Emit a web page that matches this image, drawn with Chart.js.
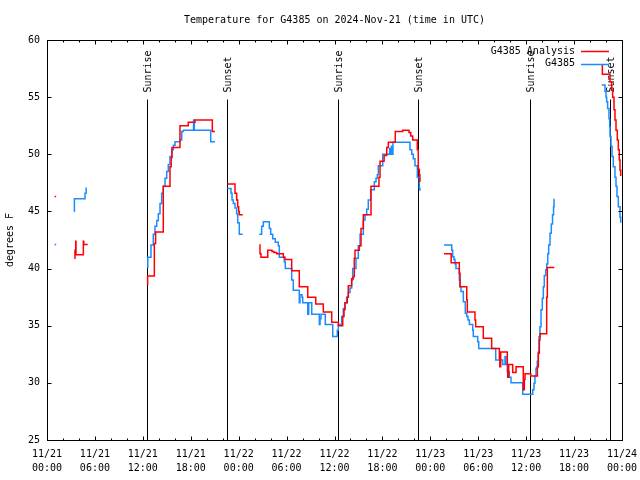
<!DOCTYPE html>
<html>
<head>
<meta charset="utf-8">
<script src="https://cdn.jsdelivr.net/npm/chart.js@4.4.1/dist/chart.umd.min.js"></script>
<style>
  html, body { margin: 0; padding: 0; background: #fff; }
  canvas { display: block; }
</style>
</head>
<body>
<canvas id="c" width="640" height="480"></canvas>
<script>
// ---- data (hours since 2024-11-21 00:00 UTC, degrees F); null = gap ----
const chartTitle = 'Temperature for G4385 on 2024-Nov-21 (time in UTC)';
const seriesNames = ['G4385 Analysis', 'G4385'];

const analysisHours = [
  0.95, 1.15, 2,
  3.42, 3.5, 3.6, 3.63, 4.55, 4.6, 5.1, 8,
  12.5, 12.6, 13.44, 13.6, 14.56, 15.4, 15.55, 15.65, 16.65, 17.69, 18.53, 20.7, 21.04, 22,
  22.58, 23.54, 23.75, 23.88, 24.0, 24.08, 24.51, 25,
  26.58, 26.67, 26.79, 27.64, 28.17, 28.42, 28.76, 29.59, 29.8, 30.64, 31.59, 32.65, 33.65, 34.6, 35.65,
  36.48, 37.03, 37.19, 37.31, 37.6, 37.73, 38.15, 38.36, 38.48, 38.57, 39.11, 39.32, 39.61, 40.57, 41.57,
  41.7, 42.21, 42.54, 42.74, 43.61, 44.54, 45.33, 45.54, 45.79, 46.37, 46.49, 46.62, 46.7, 48,
  49.71, 50.61, 51.63, 51.72, 52.56, 52.63, 53.59, 53.68, 54.63, 55.68, 56.64, 56.7, 56.81, 57.64, 57.69,
  57.81, 58.31, 58.73, 59.64, 59.77, 59.86, 60.57, 61.4, 61.52, 61.65, 61.73, 62.57, 62.65, 63.52, 66,
  69.46, 69.54, 70.5, 70.71, 70.83, 71.0, 71.12, 71.25, 71.41, 71.54, 71.66, 71.75, 71.84
];
const analysisTemps = [
  46.3, 46.3, null,
  40.9, 41.6, 42.4, 41.2, 42.4, 42.1, 42.1, null,
  38.6, 39.35, 42.2, 43.2, 47.2, 48.9, 49.7, 50.6, 52.5, 52.8, 53.0, 52.0, 52.0, null,
  47.4, 46.6, 46.0, 45.4, 45.0, 44.7, 44.7, null,
  42.06, 41.3, 41.0, 41.6, 41.5, 41.4, 41.3, 41.0, 40.8, 39.8, 38.4, 37.5, 36.9, 36.2, 35.3,
  35.0, 35.8, 36.4, 37.0, 37.5, 38.5, 39.1, 39.3, 40.9, 41.6, 42.0, 43.5, 44.7, 47.2, 48.0,
  49.4, 49.9, 50.6, 51.05, 52.0, 52.1, 51.9, 51.6, 51.25, 50.4, 48.7, 48.2, 47.6, null,
  41.3, 40.5, 39.6, 38.4, 37.25, 36.2, 35.5, 34.9, 33.9, 33.0, 32.15, 31.4, 32.7, 31.6, 30.5,
  31.6, 30.9, 31.4, 29.4, 30.3, 30.8, 30.6, 31.4, 32.6, 33.75, 34.3, 37.5, 40.1, 40.1, null,
  57.8, 57.0, 56.35, 55.6, 55.0, 53.9, 53.0, 52.1, 51.25, 50.4, 49.5, 48.6, 48.1
];

const stationHours = [
  0.95, 1.15, 2,
  3.42, 3.43, 4.76, 4.9, 8,
  12.55, 12.62, 13.02, 13.31, 13.52, 13.74, 13.94, 14.15, 14.36, 14.56, 14.78, 14.99, 15.19, 15.4, 15.62,
  15.82, 16.03, 16.65, 16.87, 17.07, 18.35, 18.45, 20.5, 21.04, 22,
  22.58, 23.04, 23.17, 23.33, 23.54, 23.75, 23.88, 24.08, 24.51, 25,
  26.58, 26.88, 27.09, 27.84, 28.01, 28.26, 28.59, 28.96, 29.09, 29.71, 29.84, 30.64, 30.84, 31.59, 31.68,
  31.93, 32.02, 32.65, 32.77, 33.15, 34.1, 34.19, 34.31, 34.85, 35.78, 36.35, 36.48, 36.9, 37.1, 37.31,
  37.53, 37.73, 37.94, 38.15, 38.28, 38.69, 38.98, 39.2, 39.61, 39.82, 40.03, 40.23, 40.53, 40.99, 41.2,
  41.36, 41.49, 42.04, 42.9, 43.04, 43.12, 43.24, 43.32, 45.24, 45.45, 45.67, 45.87, 46.08, 46.37, 46.62, 46.7, 48,
  49.71, 50.68, 50.8, 50.96, 51.09, 51.21, 51.63, 51.72, 51.84, 52.13, 52.38, 52.56, 52.72, 52.89, 53.31,
  53.38, 53.93, 54.06, 56.19, 57.06, 57.35, 57.48, 57.64, 57.89, 58.1, 59.57, 60.82, 60.98, 61.1, 61.23,
  61.39, 61.52, 61.61, 61.73, 61.86, 62.02, 62.15, 62.27, 62.45, 62.57, 62.7, 62.82, 62.99, 63.15, 63.3,
  63.43, 63.49, 66,
  69.46, 69.87, 70.0, 70.08, 70.2, 70.37, 70.46, 70.5, 70.62, 70.75, 70.91, 71.12, 71.25, 71.37, 71.54,
  71.75, 71.84
];
const stationTemps = [
  42.1, 42.1, null,
  45.0, 46.1, 46.6, 47.1, null,
  40.1, 41.0, 42.06, 43.0, 43.7, 44.2, 44.8, 45.7, 46.6, 47.2, 47.9, 48.5, 49.1, 49.8, 50.4,
  50.8, 51.1, 51.25, 52.0, 52.1, 53.0, 52.1, 51.1, 51.1, null,
  47.0, 46.6, 46.0, 45.7, 45.3, 44.8, 44.0, 43.0, 43.0, null,
  43.0, 43.7, 44.1, 43.5, 43.0, 42.6, 42.3, 42.0, 41.0, 40.6, 40.0, 39.0, 38.1, 37.0, 37.7,
  37.5, 37.0, 36.0, 37.0, 36.0, 35.1, 35.6, 36.0, 35.1, 34.05, 34.6, 35.1, 35.8, 36.5, 37.0,
  37.5, 37.9, 38.3, 39.0, 40.0, 40.9, 42.0, 43.0, 44.25, 44.7, 45.2, 46.0, 46.9, 47.6, 47.9,
  48.2, 49.0, 50.0, 50.5, 50.0, 50.7, 50.0, 51.05, 51.05, 50.4, 50.0, 49.6, 49.0, 48.0, 47.0, 46.8, null,
  42.06, 41.6, 41.04, 40.8, 40.4, 40.0, 39.0, 38.4, 38.0, 37.1, 36.1, 35.8, 35.5, 35.1, 34.6,
  34.05, 33.6, 33.0, 32.0, 31.6, 32.3, 31.6, 31.0, 30.5, 30.0, 29.0, 29.4, 29.96, 30.6, 31.27,
  31.9, 32.7, 34.04, 34.9, 36.4, 37.4, 38.4, 39.4, 39.9, 40.4, 41.3, 42.06, 43.1, 43.9, 44.7,
  45.4, 46.1, null,
  56.06, 55.5, 55.0, 54.6, 54.0, 53.1, 52.4, 51.55, 50.7, 49.8, 48.9, 48.0, 47.2, 46.3, 45.4,
  44.5, 44.0
];

// sunrise / sunset markers (hours)
const sunHours  = [12.52, 22.55, 36.44, 46.46, 60.47, 70.49];
const sunLabels = ['Sunrise', 'Sunset', 'Sunrise', 'Sunset', 'Sunrise', 'Sunset'];

// x tick labels every 6 hours
const xTickLabels = [
  ['11/21', '00:00'], ['11/21', '06:00'], ['11/21', '12:00'], ['11/21', '18:00'],
  ['11/22', '00:00'], ['11/22', '06:00'], ['11/22', '12:00'], ['11/22', '18:00'],
  ['11/23', '00:00'], ['11/23', '06:00'], ['11/23', '12:00'], ['11/23', '18:00'],
  ['11/24', '00:00']
];

// ---- rendering ----
const FONT = '"DejaVu Sans Mono", "Liberation Mono", monospace';
const RED = '#ff0000';
const BLUE = '#1a8cff';

function pairs(xs, ys) { return xs.map((h, i) => ({ x: h, y: ys[i] })); }

const decor = {
  id: 'decor',
  beforeDatasetsDraw(chart) {
    const { ctx, chartArea: a, scales: { x, y } } = chart;
    ctx.save();
    ctx.strokeStyle = '#000';
    ctx.lineWidth = 1;
    ctx.fillStyle = '#000';
    ctx.font = '10px ' + FONT;
    // title centred over the plot area
    ctx.textAlign = 'center';
    ctx.textBaseline = 'middle';
    ctx.fillText(chartTitle, (a.left + a.right) / 2, 20);
    const top = Math.round(y.getPixelForValue(54.85)) + 0.5;
    sunHours.forEach((h, i) => {
      const px = Math.round(x.getPixelForValue(h)) + 0.5;
      ctx.beginPath();
      ctx.moveTo(px, top);
      ctx.lineTo(px, a.bottom);
      ctx.stroke();
      ctx.save();
      ctx.translate(px + 1, top - 7);
      ctx.rotate(-Math.PI / 2);
      ctx.textAlign = 'left';
      ctx.textBaseline = 'middle';
      ctx.fillText(sunLabels[i], 0, 0);
      ctx.restore();
    });
    ctx.restore();
  },
  afterDatasetsDraw(chart) {
    const { ctx, chartArea: a, scales: { x, y } } = chart;
    ctx.save();
    ctx.strokeStyle = '#000';
    ctx.lineWidth = 1;
    const L = Math.round(a.left) + 0.5, R = Math.round(a.right) + 0.5;
    const T = Math.round(a.top) + 0.5, B = Math.round(a.bottom) + 0.5;
    ctx.strokeRect(L, T, R - L, B - T);
    ctx.beginPath();
    y.ticks.forEach(t => {
      const py = Math.round(y.getPixelForValue(t.value)) + 0.5;
      ctx.moveTo(L, py); ctx.lineTo(L + 4, py);
      ctx.moveTo(R, py); ctx.lineTo(R - 4, py);
    });
    for (let h = x.min; h <= x.max; h += 2) {
      const px = Math.round(x.getPixelForValue(h)) + 0.5;
      const len = (h % 6 === 0) ? 4 : 2;
      ctx.moveTo(px, B); ctx.lineTo(px, B - len);
      ctx.moveTo(px, T); ctx.lineTo(px, T + len);
    }
    ctx.stroke();

    // legend (top right, inside plot)
    ctx.font = '10px ' + FONT;
    ctx.textAlign = 'right';
    ctx.textBaseline = 'middle';
    ctx.fillStyle = '#000';
    chart.data.datasets.forEach((ds, i) => {
      const ly = 51 + i * 12.5;
      ctx.fillText(ds.label, 575, ly);
      ctx.strokeStyle = ds.borderColor;
      ctx.lineWidth = 1.5;
      ctx.beginPath();
      ctx.moveTo(581, Math.round(ly) + 0.5);
      ctx.lineTo(609, Math.round(ly) + 0.5);
      ctx.stroke();
    });
    ctx.restore();
  }
};

new Chart(document.getElementById('c'), {
  type: 'line',
  data: {
    datasets: [
      { label: seriesNames[0], data: pairs(analysisHours, analysisTemps), borderColor: RED,
        borderWidth: 1.5, pointRadius: 0, stepped: 'before', spanGaps: false, fill: false },
      { label: seriesNames[1], data: pairs(stationHours, stationTemps), borderColor: BLUE,
        borderWidth: 1.5, pointRadius: 0, stepped: 'before', spanGaps: false, fill: false }
    ]
  },
  options: {
    responsive: false,
    animation: false,
    devicePixelRatio: 1,
    layout: { padding: { left: 0, right: 18, top: 40, bottom: 0 } },
    plugins: {
      legend: { display: false },
      tooltip: { enabled: false },
      title: { display: false }
    },
    scales: {
      x: {
        type: 'linear', min: 0, max: 72,
        grid: { display: false, drawTicks: false },
        border: { display: false },
        afterFit(s) { s.height = 40; s.paddingLeft = 0; s.paddingRight = 0; },
        ticks: {
          stepSize: 6, autoSkip: false, maxRotation: 0, minRotation: 0, padding: 7,
          color: '#000', font: { family: FONT, size: 10, lineHeight: 1.4 },
          callback: (v) => xTickLabels[Math.round(v / 6)]
        }
      },
      y: {
        min: 25, max: 60,
        grid: { display: false, drawTicks: false },
        border: { display: false },
        afterFit(s) { s.width = 47; },
        ticks: { stepSize: 5, padding: 7, color: '#000', font: { family: FONT, size: 10 } },
        title: {
          display: true, text: 'degrees F', color: '#000',
          font: { family: FONT, size: 10, lineHeight: 1.2 },
          padding: { top: 4, bottom: 0 }
        }
      }
    }
  },
  plugins: [decor]
});
</script>
</body>
</html>
